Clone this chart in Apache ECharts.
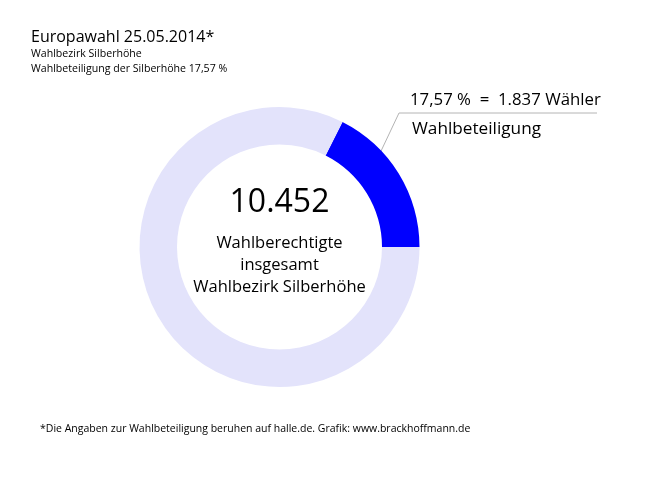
<!DOCTYPE html>
<html><head><meta charset="utf-8">
<script src="https://cdn.jsdelivr.net/npm/echarts@6/dist/echarts.min.js"></script>
<style>html,body{margin:0;padding:0;background:#fff}#c{width:661px;height:477px}</style>
</head><body><div id="c"></div>
<script>
const sliceNames = ['Wahlbeteiligung', 'Nichtwähler'];
const sliceValues = [1837, 8615];
const totalVoters = '10.452';
const turnoutText = '17,57 %';
const voterText = '1.837 Wähler';
const titleLines = ['Europawahl 25.05.2014*', 'Wahlbezirk Silberhöhe', 'Wahlbeteiligung der Silberhöhe 17,57 %'];
const centerLines = ['Wahlberechtigte', 'insgesamt', 'Wahlbezirk Silberhöhe'];
const footnote = '*Die Angaben zur Wahlbeteiligung beruhen auf halle.de. Grafik: www.brackhoffmann.de';

const FONT = '"Open Sans", sans-serif';
const chart = echarts.init(document.getElementById('c'));
chart.setOption({
  backgroundColor: '#fff',
  animation: false,
  title: [
    {text: titleLines[0], left: 31, top: 29, padding: 0, textStyle: {fontFamily: FONT, fontSize: 16, fontWeight: 'normal', color: '#000'}},
    {text: titleLines[1] + '\n' + titleLines[2], left: 31, top: 46.5, padding: 0, textStyle: {fontFamily: FONT, fontSize: 10.6, fontWeight: 'normal', color: '#000', lineHeight: 15}},
    {text: totalVoters, left: 279.5, top: 187, padding: 0, textAlign: 'center', textStyle: {fontFamily: FONT, fontSize: 32, fontWeight: 'normal', color: '#000'}},
    {text: centerLines.join('\n'), left: 279.5, top: 232, padding: 0, textAlign: 'center', textStyle: {fontFamily: FONT, fontSize: 16.5, fontWeight: 'normal', color: '#000', lineHeight: 22}},
    {text: footnote, left: 40, top: 424, padding: 0, textStyle: {fontFamily: FONT, fontSize: 10.5, fontWeight: 'normal', color: '#000'}}
  ],
  series: [{
    type: 'pie',
    center: [279.5, 247],
    radius: [102.5, 140],
    startAngle: 0,
    clockwise: false,
    silent: true,
    data: sliceNames.map((n, i) => ({
      name: n,
      value: sliceValues[i],
      itemStyle: {color: i === 0 ? '#0000ff' : '#e3e3fb'},
      label: {show: i === 0},
      labelLine: {show: i === 0}
    })),
    label: {
      position: 'outside',
      fontFamily: FONT,
      formatter: () => '{a|' + turnoutText + '  =  ' + voterText + '}\n{b|Wahlbeteiligung}',
      rich: {
        a: {fontFamily: FONT, fontSize: 16.8, color: '#000', lineHeight: 28},
        b: {fontFamily: FONT, fontSize: 17.2, color: '#000', lineHeight: 30, padding: [0, 0, 0, 2]}
      },
      align: 'left'
    },
    labelLine: {show: true, lineStyle: {color: '#b4b4b4', width: 1}},
    labelLayout: function () {
      return {
        x: 410, y: 86, align: 'left', verticalAlign: 'top',
        labelLinePoints: [[373, 168], [399, 113], [597, 113]]
      };
    }
  }]
});
</script></body></html>
